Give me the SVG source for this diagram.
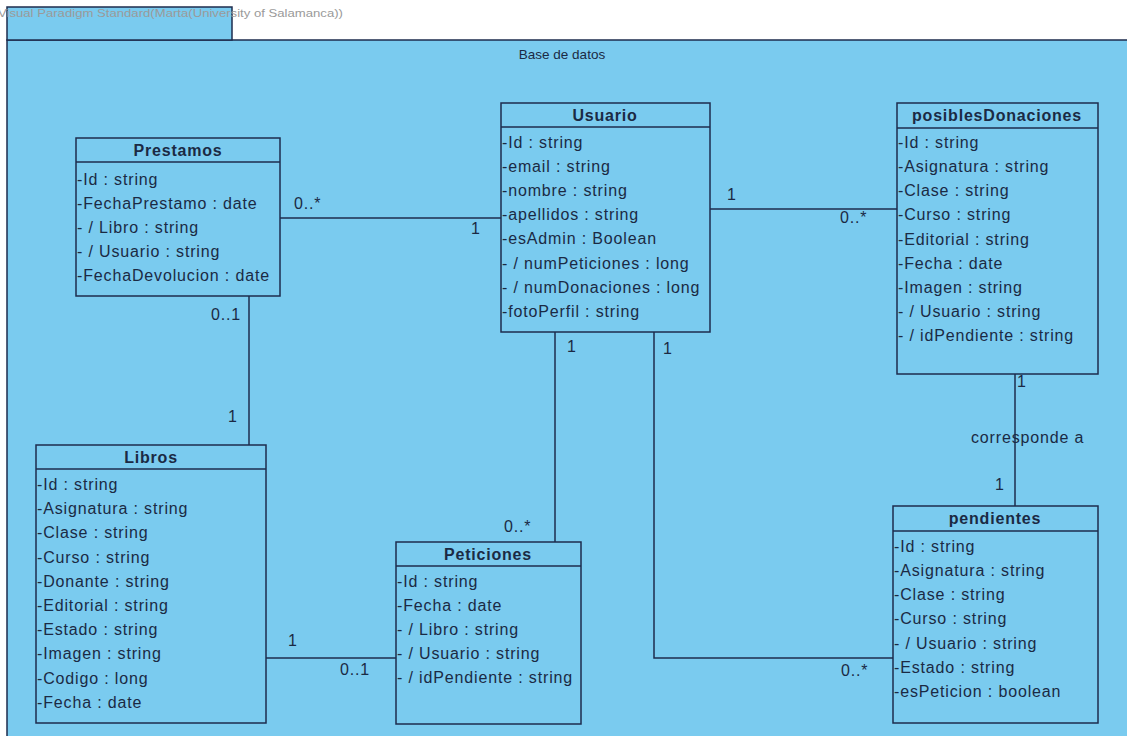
<svg xmlns="http://www.w3.org/2000/svg" width="1127" height="736" viewBox="0 0 1127 736">
  <style>
    .pkg { fill: #7acbef; stroke: #1e2c4e; stroke-width: 1.5; }
    .box { fill: #7acbef; stroke: #1e2c4e; stroke-width: 1.5; }
    .sep { stroke: #1e2c4e; stroke-width: 1.5; }
    .conn { fill: none; stroke: #1e2c4e; stroke-width: 1.5; }
    .hdr { font-family: "Liberation Sans", Arial, sans-serif; font-size: 16px; font-weight: bold; letter-spacing: 0.8px; fill: #1b2a44; text-anchor: middle; }
    .attr { font-family: "Liberation Sans", Arial, sans-serif; font-size: 16px; letter-spacing: 0.85px; fill: #1b2a44; }
    .lbl { font-family: "Liberation Sans", Arial, sans-serif; font-size: 16px; letter-spacing: 0.85px; fill: #1b2a44; }
    .title { font-family: "Liberation Sans", Arial, sans-serif; font-size: 13.5px; fill: #1b2a44; text-anchor: middle; }
    .wm { font-family: "Liberation Sans", Arial, sans-serif; font-size: 11px; fill: #9a9a9a; }
  </style>

  <rect x="0" y="0" width="1127" height="736" fill="#ffffff"/>

  <!-- package frame -->
  <g id="package">
    <rect class="pkg" x="7" y="40" width="1140" height="720"/>
    <rect class="pkg" x="7" y="7" width="225" height="33"/>
    <text class="title" x="562" y="59">Base de datos</text>
  </g>
  <text class="wm" x="-2" y="17" textLength="345" lengthAdjust="spacingAndGlyphs">Visual Paradigm Standard(Marta(University of Salamanca))</text>

  <!-- associations -->
  <g id="connectors">
    <line class="conn" x1="280" y1="218" x2="501" y2="218"/>
    <line class="conn" x1="710" y1="209" x2="897" y2="209"/>
    <line class="conn" x1="249" y1="296" x2="249" y2="445"/>
    <line class="conn" x1="555" y1="332" x2="555" y2="542"/>
    <polyline class="conn" points="654,332 654,658 893,658"/>
    <line class="conn" x1="266" y1="658" x2="396" y2="658"/>
    <line class="conn" x1="1015" y1="374" x2="1015" y2="506"/>

    <text class="lbl" x="294" y="209">0..*</text>
    <text class="lbl" x="471" y="234">1</text>
    <text class="lbl" x="727" y="200">1</text>
    <text class="lbl" x="840" y="223">0..*</text>
    <text class="lbl" x="211" y="320">0..1</text>
    <text class="lbl" x="228" y="422">1</text>
    <text class="lbl" x="567" y="352">1</text>
    <text class="lbl" x="663" y="354">1</text>
    <text class="lbl" x="504" y="532">0..*</text>
    <text class="lbl" x="288" y="646">1</text>
    <text class="lbl" x="340" y="675">0..1</text>
    <text class="lbl" x="841" y="676">0..*</text>
    <text class="lbl" x="1017" y="387">1</text>
    <text class="lbl" x="971" y="443">corresponde a</text>
    <text class="lbl" x="995" y="490">1</text>
  </g>

  <g id="Prestamos">
    <rect class="box" x="76" y="138" width="204" height="158"/>
    <line class="sep" x1="76" y1="162" x2="280" y2="162"/>
    <text class="hdr" x="178" y="156">Prestamos</text>
    <text class="attr" x="77" y="185">-Id : string</text>
    <text class="attr" x="77" y="209">-FechaPrestamo : date</text>
    <text class="attr" x="77" y="233">- / Libro : string</text>
    <text class="attr" x="77" y="257">- / Usuario : string</text>
    <text class="attr" x="77" y="281">-FechaDevolucion : date</text>
  </g>

  <g id="Usuario">
    <rect class="box" x="501" y="103" width="209" height="229"/>
    <line class="sep" x1="501" y1="127" x2="710" y2="127"/>
    <text class="hdr" x="605" y="121">Usuario</text>
    <text class="attr" x="502" y="148">-Id : string</text>
    <text class="attr" x="502" y="172">-email : string</text>
    <text class="attr" x="502" y="196">-nombre : string</text>
    <text class="attr" x="502" y="220">-apellidos : string</text>
    <text class="attr" x="502" y="244">-esAdmin : Boolean</text>
    <text class="attr" x="502" y="269">- / numPeticiones : long</text>
    <text class="attr" x="502" y="293">- / numDonaciones : long</text>
    <text class="attr" x="502" y="317">-fotoPerfil : string</text>
  </g>

  <g id="posiblesDonaciones">
    <rect class="box" x="897" y="103" width="201" height="271"/>
    <line class="sep" x1="897" y1="128" x2="1098" y2="128"/>
    <text class="hdr" x="997" y="121">posiblesDonaciones</text>
    <text class="attr" x="898" y="148">-Id : string</text>
    <text class="attr" x="898" y="172">-Asignatura : string</text>
    <text class="attr" x="898" y="196">-Clase : string</text>
    <text class="attr" x="898" y="220">-Curso : string</text>
    <text class="attr" x="898" y="245">-Editorial : string</text>
    <text class="attr" x="898" y="269">-Fecha : date</text>
    <text class="attr" x="898" y="293">-Imagen : string</text>
    <text class="attr" x="898" y="317">- / Usuario : string</text>
    <text class="attr" x="898" y="341">- / idPendiente : string</text>
  </g>

  <g id="Libros">
    <rect class="box" x="36" y="445" width="230" height="278"/>
    <line class="sep" x1="36" y1="469" x2="266" y2="469"/>
    <text class="hdr" x="151" y="463">Libros</text>
    <text class="attr" x="37" y="490">-Id : string</text>
    <text class="attr" x="37" y="514">-Asignatura : string</text>
    <text class="attr" x="37" y="538">-Clase : string</text>
    <text class="attr" x="37" y="563">-Curso : string</text>
    <text class="attr" x="37" y="587">-Donante : string</text>
    <text class="attr" x="37" y="611">-Editorial : string</text>
    <text class="attr" x="37" y="635">-Estado : string</text>
    <text class="attr" x="37" y="659">-Imagen : string</text>
    <text class="attr" x="37" y="684">-Codigo : long</text>
    <text class="attr" x="37" y="708">-Fecha : date</text>
  </g>

  <g id="Peticiones">
    <rect class="box" x="396" y="542" width="185" height="182"/>
    <line class="sep" x1="396" y1="566" x2="581" y2="566"/>
    <text class="hdr" x="488" y="560">Peticiones</text>
    <text class="attr" x="397" y="587">-Id : string</text>
    <text class="attr" x="397" y="611">-Fecha : date</text>
    <text class="attr" x="397" y="635">- / Libro : string</text>
    <text class="attr" x="397" y="659">- / Usuario : string</text>
    <text class="attr" x="397" y="683">- / idPendiente : string</text>
  </g>

  <g id="pendientes">
    <rect class="box" x="893" y="506" width="205" height="217"/>
    <line class="sep" x1="893" y1="531" x2="1098" y2="531"/>
    <text class="hdr" x="995" y="524">pendientes</text>
    <text class="attr" x="894" y="552">-Id : string</text>
    <text class="attr" x="894" y="576">-Asignatura : string</text>
    <text class="attr" x="894" y="600">-Clase : string</text>
    <text class="attr" x="894" y="624">-Curso : string</text>
    <text class="attr" x="894" y="649">- / Usuario : string</text>
    <text class="attr" x="894" y="673">-Estado : string</text>
    <text class="attr" x="894" y="697">-esPeticion : boolean</text>
  </g>
</svg>
